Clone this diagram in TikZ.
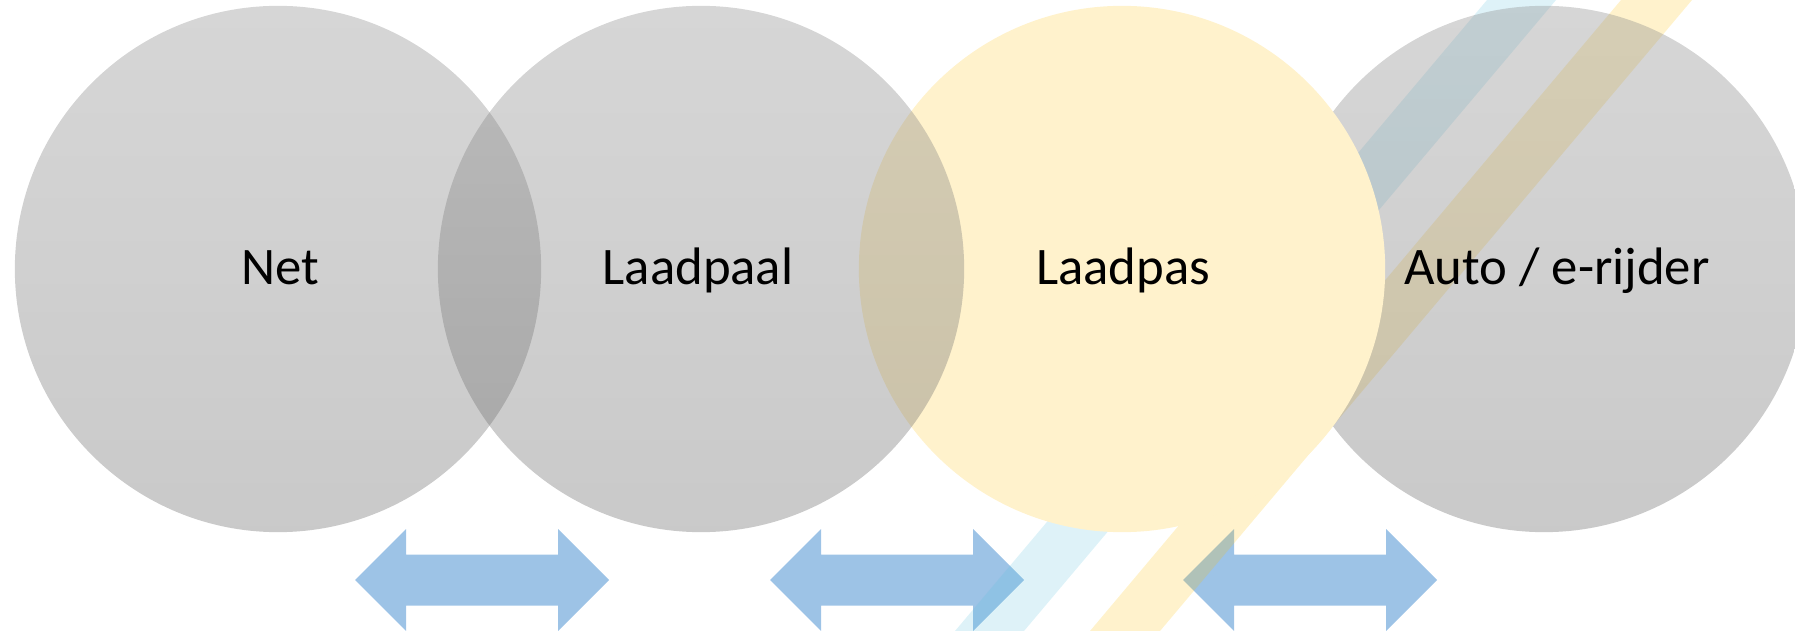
\documentclass[tikz,border=0pt]{standalone}
\usepackage{fontspec}
\setmainfont{Carlito}
\usepackage{tikz}
\usetikzlibrary{positioning}

\definecolor{RingTop}{RGB}{138,138,138}
\definecolor{RingBottom}{RGB}{101,101,101}
\definecolor{PasYellow}{RGB}{255,242,204}
\definecolor{ArrowBlue}{RGB}{157,195,230}
\definecolor{BandBlue}{RGB}{91,192,222}
\definecolor{BandYellow}{RGB}{255,192,0}

\begin{document}
\begin{tikzpicture}[
  x=0.01cm, y=-0.01cm,
  font=\fontsize{15}{18}\selectfont,
  ring/.style={circle, inner sep=0pt, outer sep=0pt, minimum size=5.26cm},
  grayring/.style={ring, top color=RingTop, bottom color=RingBottom,
    fill opacity=0.35},
  yellowring/.style={ring, fill=PasYellow},
  band/.style={fill opacity=0.2},
  dblarrow/.style={fill=ArrowBlue},
  lbl/.style={anchor=base, inner sep=0pt}
]
\useasboundingbox (0,0) rectangle (1795,631);
\clip (0,0) rectangle (1795,631);

% arrows and the two bands at the back
\foreach \cx in {482,897,1310}
  \fill[dblarrow] (\cx-127,580) -- (\cx-76,529) -- (\cx-76,554.5)
    -- (\cx+76,554.5) -- (\cx+76,529) -- (\cx+127,580) -- (\cx+76,631)
    -- (\cx+76,605.5) -- (\cx-76,605.5) -- (\cx-76,631) -- cycle;
\fill[band, BandBlue] (1487,0) -- (1556,0) -- (1024,631) -- (955,631) -- cycle;
\fill[band, BandYellow] (1621,0) -- (1692,0) -- (1160,631) -- (1090,631) -- cycle;

% rings
\node[grayring] (auto) at (1544,269) {};
\node[yellowring] (pas) at (1122,269) {};
\node[grayring] (paal) at (701,269) {};
\node[grayring] (net) at (278,269) {};

\node[lbl] (netlbl) at (280,285) {Net};
\node[lbl] (paallbl) at (698,285) {Laadpaal};
\node[lbl] (paslbl) at (1123,285) {Laadpas};
\node[lbl] (autolbl) at (1557,285) {Auto / e-rijder};
\end{tikzpicture}
\end{document}
